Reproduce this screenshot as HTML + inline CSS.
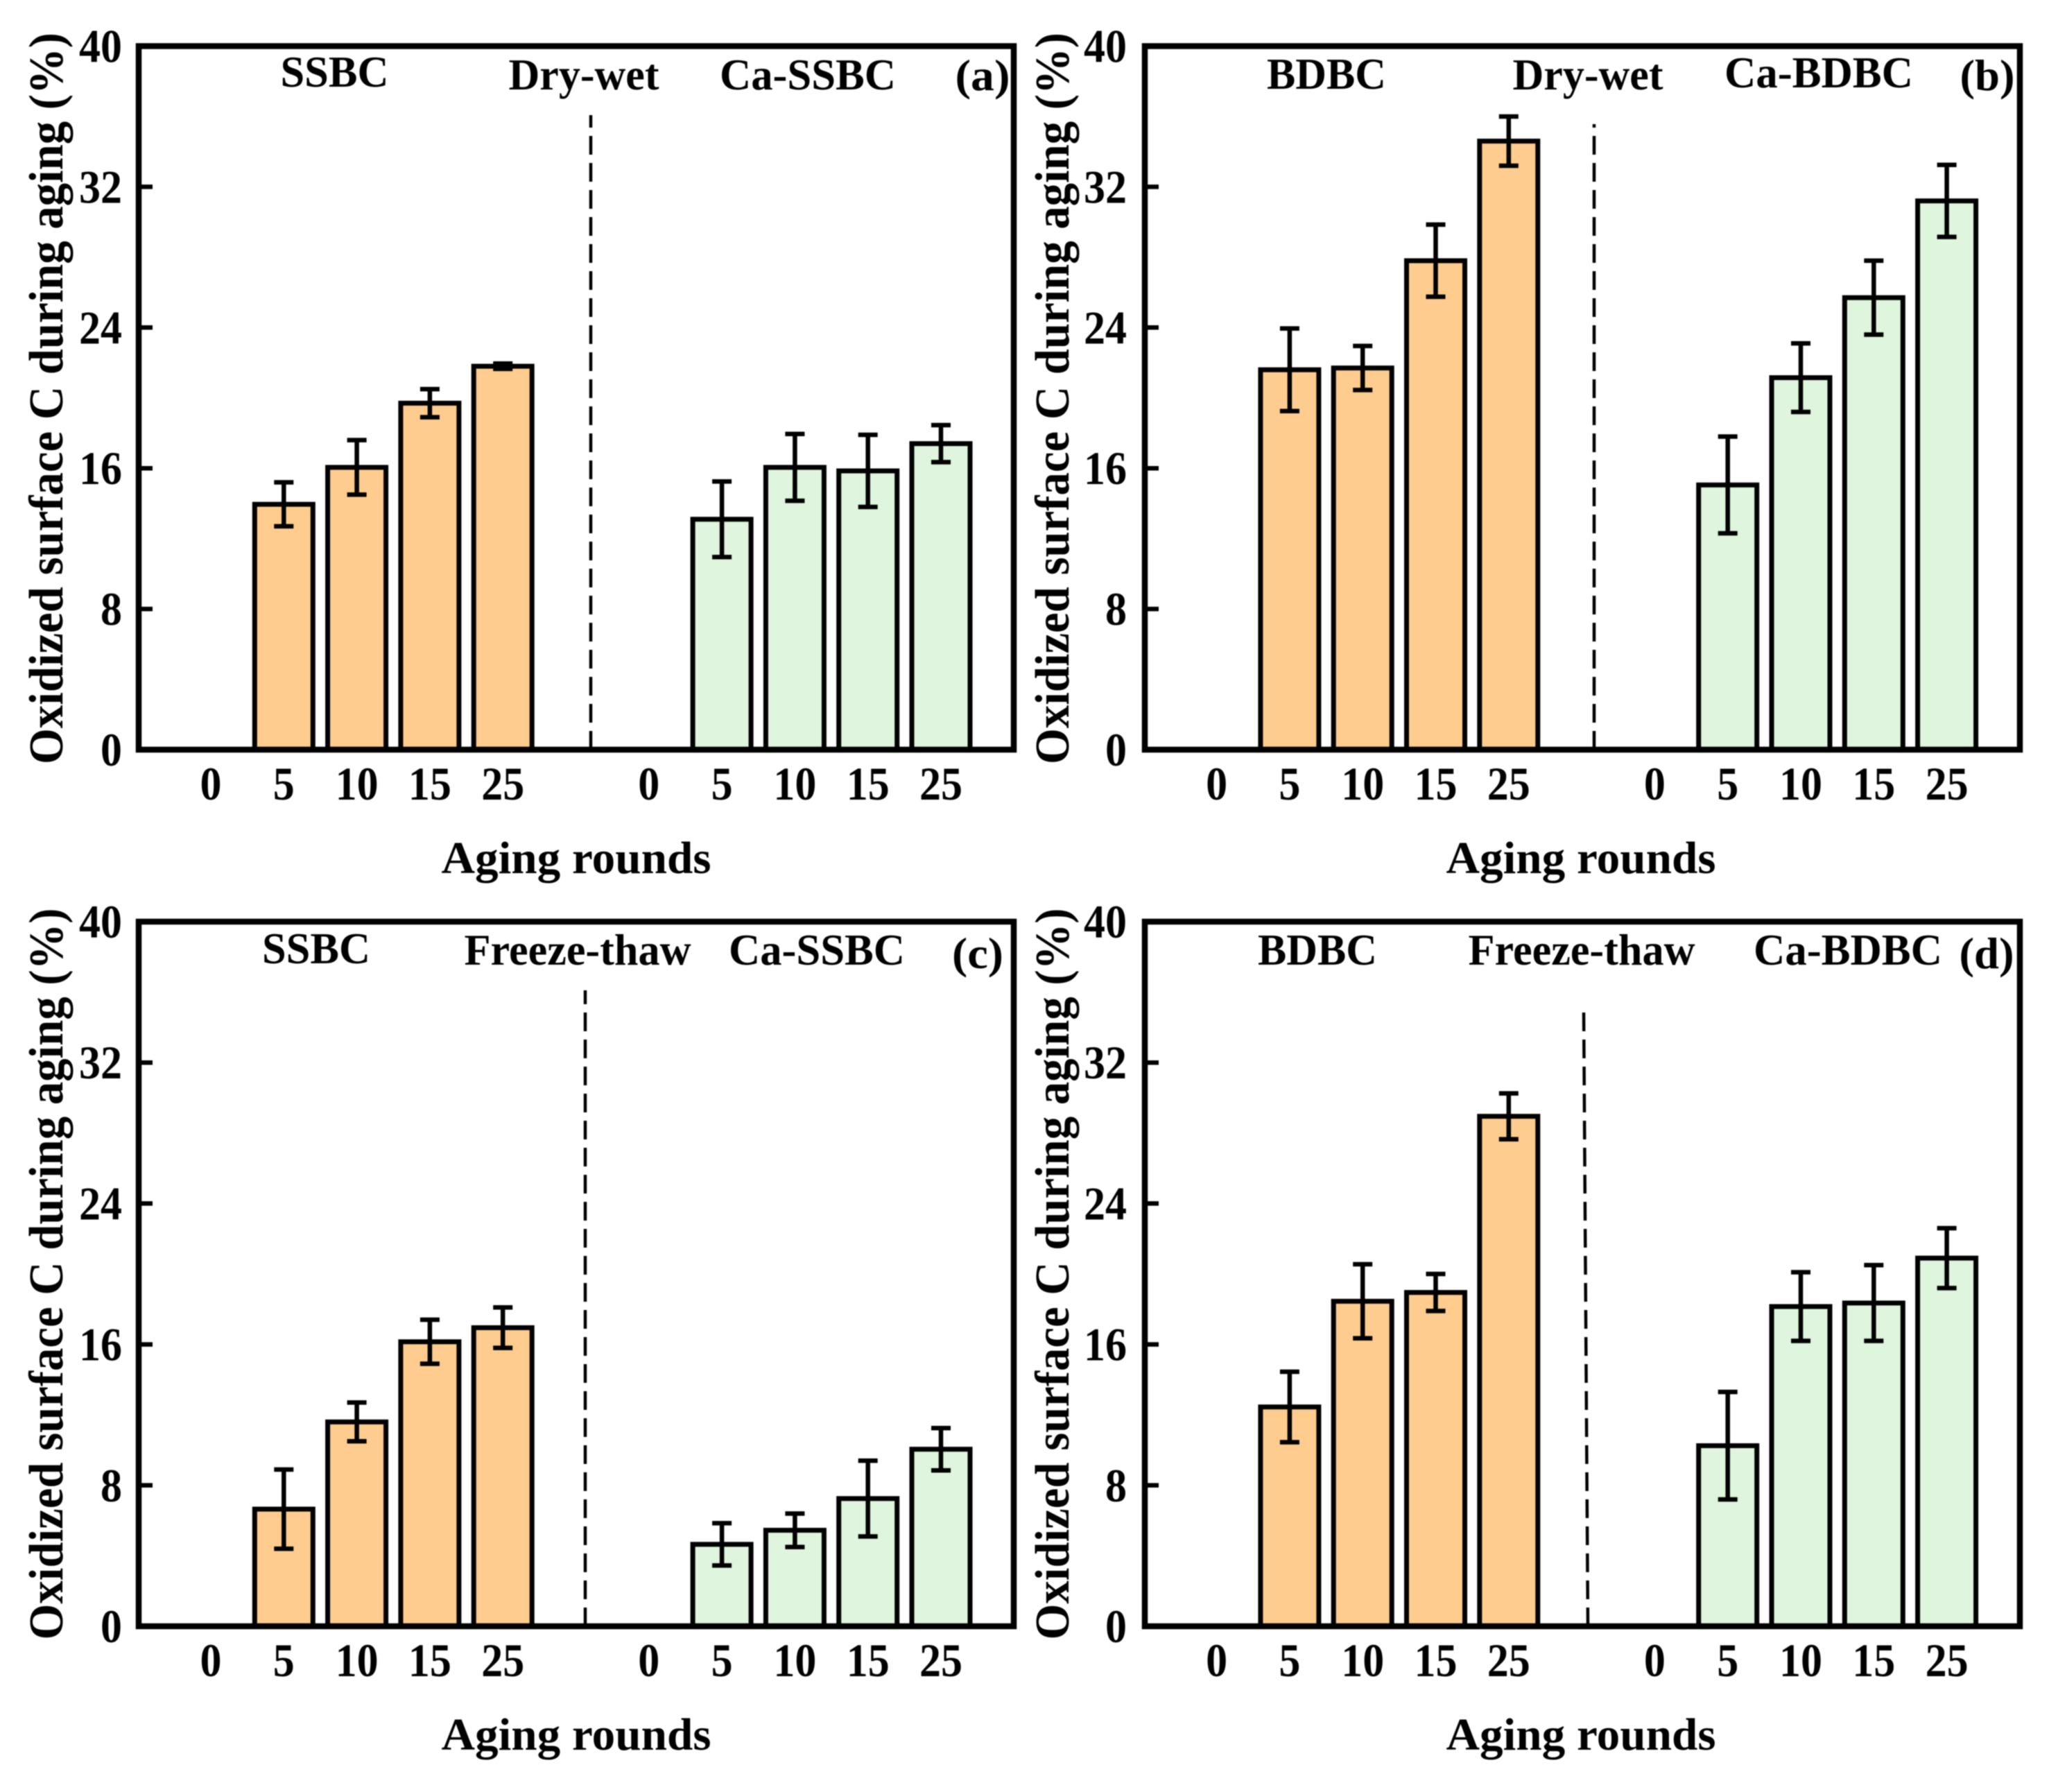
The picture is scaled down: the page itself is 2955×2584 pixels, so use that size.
<!DOCTYPE html>
<html lang="en">
<head>
<meta charset="utf-8">
<title>Oxidized surface C during aging</title>
<style>
html,body{margin:0;padding:0;background:#fff;}
#chart{display:block;width:2955px;height:2584px;filter:blur(0.9px);}
text{font-family:"Liberation Serif",serif;font-weight:700;fill:#000;}
</style>
</head>
<body>
<svg id="chart" xmlns="http://www.w3.org/2000/svg" width="2955" height="2584" viewBox="0 0 2955 2584"></svg>
<script>
/* ---------- chart data ---------- */
const roundLabels = ['0', '5', '10', '15', '25'];
const yTickValues = [0, 8, 16, 24, 32, 40];
const xAxisTitle = 'Aging rounds';
const yAxisTitle = 'Oxidized surface C during aging (%)';

const aBare = [0, 13.95, 16.05, 19.7, 21.8];
const aBareErr = [0, 1.25, 1.55, 0.8, 0.15];
const aCa = [0, 13.1, 16.05, 15.85, 17.4];
const aCaErr = [0, 2.15, 1.9, 2.05, 1.05];

const bBare = [0, 21.6, 21.7, 27.8, 34.6];
const bBareErr = [0, 2.35, 1.25, 2.05, 1.4];
const bCa = [0, 15.05, 21.15, 25.7, 31.2];
const bCaErr = [0, 2.75, 1.95, 2.1, 2.05];

const cBare = [0, 6.65, 11.6, 16.15, 16.95];
const cBareErr = [0, 2.25, 1.1, 1.25, 1.15];
const cCa = [0, 4.65, 5.45, 7.25, 10.05];
const cCaErr = [0, 1.2, 0.95, 2.15, 1.2];

const dBare = [0, 12.45, 18.45, 18.95, 28.95];
const dBareErr = [0, 2.0, 2.1, 1.05, 1.3];
const dCa = [0, 10.25, 18.15, 18.35, 20.9];
const dCaErr = [0, 3.05, 1.95, 2.15, 1.7];

/* ---------- layout ---------- */
const NS = 'http://www.w3.org/2000/svg';
const svg = document.getElementById('chart');
const Y_MAX = 40;
const BAR_STEP = 105.3;
const BAR_W = 84;
const CAP_W = 28;
const TICK_FONT = 68;
const DIGIT_W = 31;

function node(parent, tag, attrs, text) {
  const e = document.createElementNS(NS, tag);
  for (const k in attrs) e.setAttribute(k, attrs[k]);
  if (text !== undefined) e.textContent = text;
  parent.appendChild(e);
  return e;
}

const panels = [
  { id: 'a', left: 200, right: 1462, top: 66.5, bottom: 1081, first: 304,
    bare: aBare, bareErr: aBareErr, ca: aCa, caErr: aCaErr,
    yTitleX: 90, tickX: 176, xTitleX: 831,
    dash: [852, 852, 166],
    labels: [['SSBC', 482.5, 125, 156], ['Dry-wet', 842, 129, 217], ['Ca-SSBC', 1165, 129, 254], ['(a)', 1417, 130, 79]] },
  { id: 'b', left: 1651, right: 2913, top: 66.5, bottom: 1081, first: 1754.6,
    bare: bBare, bareErr: bBareErr, ca: bCa, caErr: bCaErr,
    yTitleX: 1541, tickX: 1625, xTitleX: 2280,
    dash: [2299, 2299, 179],
    labels: [['BDBC', 1913, 128, 172], ['Dry-wet', 2290, 129, 217], ['Ca-BDBC', 2623, 126, 272], ['(b)', 2866, 130, 79]] },
  { id: 'c', left: 200, right: 1462, top: 1329, bottom: 2345, first: 304,
    bare: cBare, bareErr: cBareErr, ca: cCa, caErr: cCaErr,
    yTitleX: 90, tickX: 176, xTitleX: 831,
    dash: [844, 844, 1428],
    labels: [['SSBC', 456, 1389, 156], ['Freeze-thaw', 833, 1391, 327], ['Ca-SSBC', 1178, 1391, 254], ['(c)', 1410, 1396, 74]] },
  { id: 'd', left: 1651, right: 2913, top: 1329, bottom: 2345, first: 1754.6,
    bare: dBare, bareErr: dBareErr, ca: dCa, caErr: dCaErr,
    yTitleX: 1541, tickX: 1625, xTitleX: 2280,
    dash: [2284, 2290, 1460],
    labels: [['BDBC', 1900, 1391, 172], ['Freeze-thaw', 2281, 1391, 327], ['Ca-BDBC', 2665, 1391, 272], ['(d)', 2865, 1396, 79]] }
];

function drawBars(g, p, values, errs, startSlot, fill, group, yScale) {
  values.forEach(function (v, i) {
    const cx = p.first + BAR_STEP * (startSlot + i);
    const label = roundLabels[i];
    const tick = node(g, 'text', { x: cx, y: p.bottom + 72, 'font-size': TICK_FONT, 'text-anchor': 'middle', textLength: DIGIT_W * label.length, lengthAdjust: 'spacingAndGlyphs' }, label);
    
    
    if (v <= 0) return;
    const top = yScale(v);
    const bar = node(g, 'rect', { x: cx - BAR_W / 2, y: top, width: BAR_W, height: yScale(0) - top, fill: fill, stroke: '#000', 'stroke-width': 7 });
    
    
    const hi = yScale(v + errs[i]);
    const lo = yScale(v - errs[i]);
    const whisker = node(g, 'path', {
      d: 'M' + cx + ' ' + hi + 'V' + lo +
         'M' + (cx - CAP_W / 2) + ' ' + hi + 'H' + (cx + CAP_W / 2) +
         'M' + (cx - CAP_W / 2) + ' ' + lo + 'H' + (cx + CAP_W / 2),
      fill: 'none', stroke: '#000', 'stroke-width': 6.5
    });
    
    
  });
}

panels.forEach(function (p) {
  const yScale = function (v) { return p.bottom - (p.bottom - p.top) * v / Y_MAX; };
  const g = node(svg, 'g', {});
  
  

  drawBars(g, p, p.bare, p.bareErr, 0, '#FFCC8F', 'biochar', yScale);
  drawBars(g, p, p.ca, p.caErr, 6, '#DFF5DD', 'ca-biochar', yScale);

  const divider = node(g, 'line', { x1: p.dash[1], y1: p.bottom, x2: p.dash[0], y2: p.dash[2], stroke: '#000', 'stroke-width': 4.5, 'stroke-dasharray': '27 12' });
  
  

  const frame = node(g, 'rect', { x: p.left, y: p.top, width: p.right - p.left, height: p.bottom - p.top, fill: 'none', stroke: '#000', 'stroke-width': 8.5 });
  
  

  yTickValues.forEach(function (t) {
    const y = yScale(t);
    const mark = node(g, 'line', { x1: p.left, y1: y, x2: p.left + 20, y2: y, stroke: '#000', 'stroke-width': 6.5 });
    
    
    const str = String(t);
    const lab = node(g, 'text', { x: p.tickX, y: y + 23, 'font-size': TICK_FONT, 'text-anchor': 'end', textLength: DIGIT_W * str.length, lengthAdjust: 'spacingAndGlyphs' }, str);
    
    
  });

  const xt = node(g, 'text', { x: p.xTitleX, y: p.bottom + 178, 'font-size': 66, 'text-anchor': 'middle', textLength: 389, lengthAdjust: 'spacingAndGlyphs' }, xAxisTitle);
  
  

  const cy = p.top + 508;
  const yt = node(g, 'text', { x: 0, y: 0, transform: 'translate(' + p.yTitleX + ' ' + cy + ') rotate(-90)', 'font-size': 70, 'text-anchor': 'middle', textLength: 1055, lengthAdjust: 'spacingAndGlyphs' }, yAxisTitle);
  
  

  p.labels.forEach(function (l) {
    const t = node(g, 'text', { x: l[1], y: l[2], 'font-size': 64, 'text-anchor': 'middle', textLength: l[3], lengthAdjust: 'spacingAndGlyphs' }, l[0]);
    
    
  });
});
</script>
</body>
</html>
